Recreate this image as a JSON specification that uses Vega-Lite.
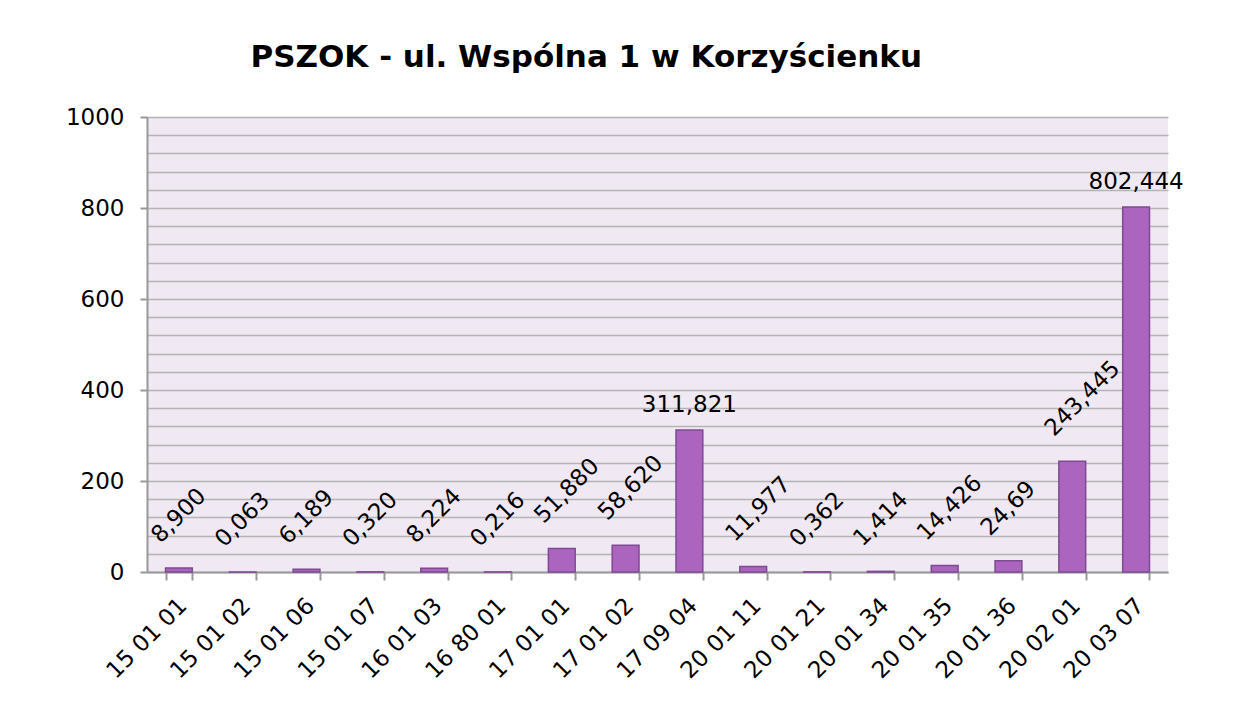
{
  "$schema": "https://vega.github.io/schema/vega-lite/v6.json",
  "autosize": "none",
  "width": 1021,
  "height": 455,
  "padding": {"left": 147, "top": 117, "right": 71, "bottom": 148},
  "background": "white",
  "title": {
    "text": "PSZOK - ul. Wspólna 1 w Korzyścienku",
    "anchor": "start",
    "dx": 185,
    "offset": 32,
    "font": "DejaVu Sans",
    "fontSize": 31,
    "fontWeight": "bold",
    "color": "#000000"
  },
  "config": {
    "view": {"stroke": null, "fill": "#F0E9F3"},
    "font": "DejaVu Sans"
  },
  "data": {
    "values": [
      {"code": "15 01 01", "value": 8.900, "label": "8,900"},
      {"code": "15 01 02", "value": 0.063, "label": "0,063"},
      {"code": "15 01 06", "value": 6.189, "label": "6,189"},
      {"code": "15 01 07", "value": 0.320, "label": "0,320"},
      {"code": "16 01 03", "value": 8.224, "label": "8,224"},
      {"code": "16 80 01", "value": 0.216, "label": "0,216"},
      {"code": "17 01 01", "value": 51.880, "label": "51,880"},
      {"code": "17 01 02", "value": 58.620, "label": "58,620"},
      {"code": "17 09 04", "value": 311.821, "label": "311,821"},
      {"code": "20 01 11", "value": 11.977, "label": "11,977"},
      {"code": "20 01 21", "value": 0.362, "label": "0,362"},
      {"code": "20 01 34", "value": 1.414, "label": "1,414"},
      {"code": "20 01 35", "value": 14.426, "label": "14,426"},
      {"code": "20 01 36", "value": 24.69, "label": "24,69"},
      {"code": "20 02 01", "value": 243.445, "label": "243,445"},
      {"code": "20 03 07", "value": 802.444, "label": "802,444"}
    ]
  },
  "encoding": {
    "x": {
      "field": "code",
      "type": "nominal",
      "sort": null,
      "scale": {"paddingInner": 0.58, "paddingOuter": 0.29},
      "axis": {
        "title": null,
        "labelAngle": -45,
        "labelAlign": "right",
        "labelBaseline": "top",
        "labelPadding": 14,
        "labelOffset": -4,
        "labelFontSize": 23,
        "labelColor": "#000000",
        "labelFont": "DejaVu Sans",
        "tickBand": "extent",
        "tickSize": 8,
        "tickColor": "#999999",
        "tickWidth": 2,
        "domainColor": "#999999",
        "domainWidth": 2,
        "grid": false
      }
    },
    "y": {
      "field": "value",
      "type": "quantitative",
      "scale": {"domain": [0, 1000], "nice": false},
      "axis": {
        "title": null,
        "values": [0, 40, 80, 120, 160, 200, 240, 280, 320, 360, 400, 440, 480, 520, 560, 600, 640, 680, 720, 760, 800, 840, 880, 920, 960, 1000],
        "labelExpr": "datum.value % 200 === 0 ? datum.value : ''",
        "tickOpacity": {"condition": {"test": "datum.value % 200 === 0", "value": 1}, "value": 0},
        "labelFontSize": 23,
        "labelColor": "#000000",
        "labelPadding": 16,
        "tickSize": 7,
        "tickColor": "#999999",
        "tickWidth": 2,
        "domainColor": "#999999",
        "domainWidth": 2,
        "grid": true,
        "gridColor": "#B4B4B4",
        "gridWidth": 1.5
      }
    }
  },
  "layer": [
    {
      "mark": {"type": "bar", "color": "#AB65BF", "stroke": "#7E4A93", "strokeWidth": 1.5}
    },
    {
      "transform": [{"filter": "datum.code !== '17 09 04' && datum.code !== '20 03 07'"}],
      "mark": {"type": "text", "angle": -45, "align": "left", "baseline": "middle", "dx": 4, "dy": -37, "fontSize": 23, "color": "#000000"},
      "encoding": {"text": {"field": "label"}}
    },
    {
      "transform": [{"filter": "datum.code === '17 09 04' || datum.code === '20 03 07'"}],
      "mark": {"type": "text", "align": "center", "baseline": "alphabetic", "dy": -18, "fontSize": 23, "color": "#000000"},
      "encoding": {"text": {"field": "label"}}
    }
  ]
}
